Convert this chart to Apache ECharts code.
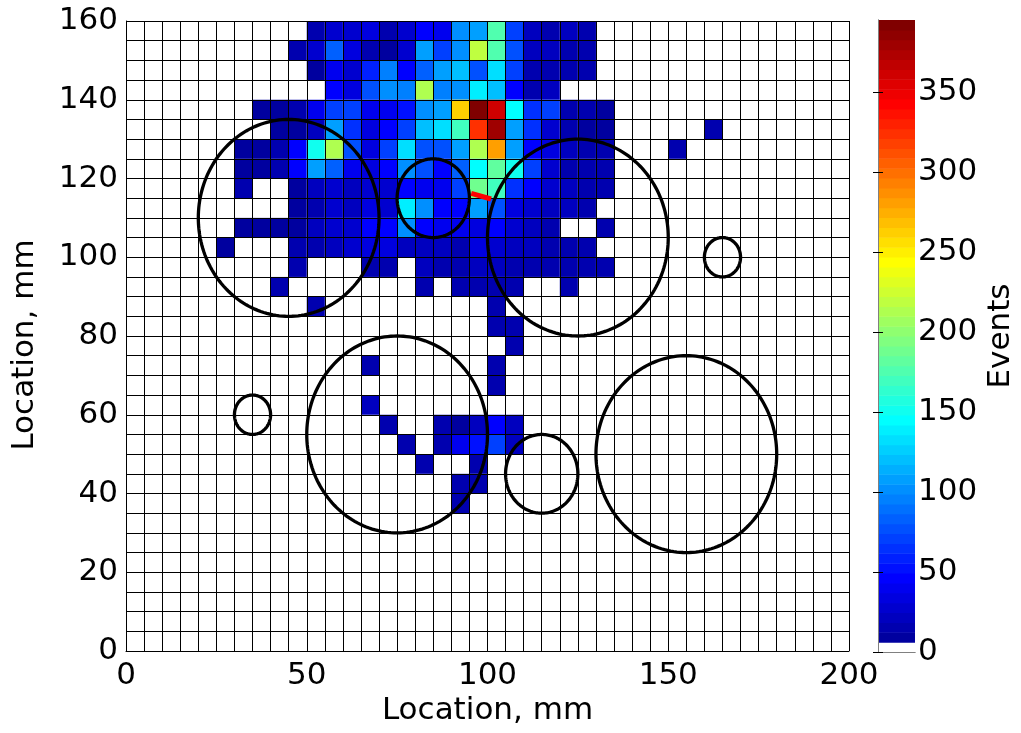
<!DOCTYPE html>
<html><head><meta charset="utf-8">
<script src="https://cdn.jsdelivr.net/npm/echarts@6/dist/echarts.min.js"></script>
<style>html,body{margin:0;padding:0;background:#fff}#c{width:1021px;height:733px}</style>
</head><body><div id="c"></div>
<script>
// ---- data ----
const xTicks = [0, 50, 100, 150, 200];
const yTicks = [0, 20, 40, 60, 80, 100, 120, 140, 160];
const cbTicks = [0, 50, 100, 150, 200, 250, 300, 350];
const cbMax = 395;
const cellSize = 5;
// bottom edge (mm) of each row of cells, top row first
const rowBottomY = [155,150,145,140,135,130,125,120,115,110,105,100,95,90,85,80,75,70,65,60,55,50,45,40,35];
// left edge (mm) of the first cell listed in each row
const rowStartX = [50,45,50,55,35,40,30,30,30,45,30,25,45,40,50,100,105,65,100,65,70,75,80,90,90];
// events per cell, consecutive cells from rowStartX
const rowEvents = [
  [16,30,30,33,16,30,49,43,99,111,173,74,23,16,23,16],
  [16,30,86,36,16,10,30,111,68,99,222,173,80,23,23,16,16],
  [12,43,30,60,93,49,86,108,123,80,133,74,16,16,16,16],
  [49,36,76,99,93,216,93,99,139,120,49,16,23],
  [12,10,16,43,74,74,43,43,52,99,111,265,395,364,148,62,68,16,16,10],
  [12,10,23,111,62,36,49,68,123,133,167,327,382,111,62,30,16,10,10,0,0,0,0,0,16],
  [12,10,16,49,154,210,80,36,68,133,80,80,111,210,278,111,49,36,23,16,16,0,0,0,16],
  [12,10,16,49,105,86,43,36,49,99,80,49,86,148,185,150,68,30,16,16,16],
  [16,0,0,12,23,30,23,30,30,49,43,43,74,190,170,62,49,30,23,16,16],
  [10,16,30,23,36,30,139,99,49,49,105,80,36,30,23,23,16],
  [12,12,12,12,23,30,30,49,49,99,49,43,40,36,49,30,23,16,0,0,16],
  [12,0,0,0,16,16,23,30,36,33,23,23,23,16,36,30,23,23,16,16,16],
  [16,0,0,0,16,16,0,23,16,16,23,23,16,16,16,16,16,16],
  [16,0,0,0,0,0,0,0,16,0,16,16,16,16,0,0,16],
  [16,0,0,0,0,0,0,0,0,0,16],
  [16,16],
  [16],
  [16,0,0,0,0,0,0,16],
  [16],
  [23],
  [16,0,0,16,10,23,49,23],
  [16,0,16,43,55,68,23],
  [16,0,0,16],
  [16,16],
  [16]
];
const circleX = [45, 85, 125, 165, 35, 75, 115, 155];
const circleY = [110, 115, 105, 100, 60, 55, 45, 50];
const circleR = [25, 10, 25, 5, 5, 25, 10, 25];
const redLineX = [95.5, 101];
const redLineY = [116.2, 114.8];

// ---- colormap (jet, 64 levels, lowest level white) ----
const nLevels = 64;
function clamp01(v){ return Math.max(0, Math.min(1, v)); }
function jet(x){
  const r = clamp01(1.5 - Math.abs(4*x - 3));
  const g = clamp01(1.5 - Math.abs(4*x - 2));
  const b = clamp01(1.5 - Math.abs(4*x - 1));
  return 'rgb(' + Math.round(r*255) + ',' + Math.round(g*255) + ',' + Math.round(b*255) + ')';
}
const levelColors = [];
for (let i = 0; i < nLevels; i++) levelColors.push(i === 0 ? '#ffffff' : jet((i + 1) / nLevels));
const step = cbMax / nLevels;
const pieces = levelColors.map((c, i) => i === nLevels - 1
  ? { gte: i * step, lte: cbMax + 10, color: c }
  : { gte: i * step, lt: (i + 1) * step, color: c });

const cells = [];
rowEvents.forEach((vals, r) => {
  vals.forEach((v, j) => {
    if (v > 0) cells.push([rowStartX[r] + j * cellSize, rowBottomY[r], v]);
  });
});
const circles = circleX.map((x, i) => [x, circleY[i], circleR[i]]);
const bands = levelColors.map((c, i) => [0, i * step, (i + 1) * step, i]);
const raySeg = [[redLineX[0], redLineY[0], redLineX[1], redLineY[1]]];

const FONT = 'DejaVu Sans';
const FS = 31;

const chart = echarts.init(document.getElementById('c'), null, { renderer: 'canvas' });
chart.setOption({
  animation: false,
  backgroundColor: '#ffffff',
  textStyle: { fontFamily: FONT },
  grid: [
    { left: 126, top: 21, width: 723, height: 630, show: false },
    { left: 878, top: 20, width: 37, height: 632, show: false }
  ],
  xAxis: [
    {
      gridIndex: 0, type: 'value', min: 0, max: 200, interval: cellSize, z: 3,
      name: 'Location, mm', nameLocation: 'middle', nameGap: 31,
      nameTextStyle: { fontSize: FS, color: '#000', fontFamily: FONT },
      axisLine: { show: true, onZero: false, lineStyle: { color: '#000', width: 1 } },
      axisTick: { show: false },
      axisLabel: { fontSize: FS, color: '#000', fontFamily: FONT, margin: 9,
        formatter: v => xTicks.includes(v) ? String(v) : '' },
      splitLine: { show: true, lineStyle: { color: '#000', width: 1 } }
    },
    {
      gridIndex: 1, type: 'value', min: 0, max: 1, position: 'bottom', z: 5,
      axisLine: { show: true, lineStyle: { color: '#808080', width: 1 } },
      axisTick: { show: false }, axisLabel: { show: false }, splitLine: { show: false }
    },
    {
      gridIndex: 1, type: 'value', min: 0, max: 1, position: 'top', z: 5,
      axisLine: { show: true, lineStyle: { color: '#808080', width: 1 } },
      axisTick: { show: false }, axisLabel: { show: false }, splitLine: { show: false }
    }
  ],
  yAxis: [
    {
      gridIndex: 0, type: 'value', min: 0, max: 160, interval: cellSize, z: 3,
      name: 'Location, mm', nameLocation: 'middle', nameGap: 86, nameRotate: 90,
      nameTextStyle: { fontSize: FS, color: '#000', fontFamily: FONT, padding: [0, 18, 0, 0] },
      axisLine: { show: true, onZero: false, lineStyle: { color: '#000', width: 1 } },
      axisTick: { show: false },
      axisLabel: { fontSize: FS, color: '#000', fontFamily: FONT, margin: 8,
        formatter: v => yTicks.includes(v) ? String(v) : '' },
      splitLine: { show: true, lineStyle: { color: '#000', width: 1 } }
    },
    {
      gridIndex: 1, type: 'value', min: 0, max: cbMax, interval: 50, position: 'right', z: 5,
      name: 'Events', nameLocation: 'middle', nameGap: 70, nameRotate: 90,
      nameTextStyle: { fontSize: FS, color: '#000', fontFamily: FONT },
      axisLine: { show: true, lineStyle: { color: '#808080', width: 1 } },
      axisTick: { show: true, inside: true, length: 5, customValues: cbTicks, lineStyle: { color: '#000' } },
      axisLabel: { fontSize: FS, color: '#000', fontFamily: FONT, margin: 3,
        formatter: v => cbTicks.includes(v) ? String(v) : '' },
      splitLine: { show: false }
    },
    {
      gridIndex: 1, type: 'value', min: 0, max: cbMax, interval: 50, position: 'left', z: 5,
      axisLine: { show: true, lineStyle: { color: '#808080', width: 1 } },
      axisTick: { show: true, inside: true, length: 5, customValues: cbTicks, lineStyle: { color: '#000' } },
      axisLabel: { show: false }, splitLine: { show: false }
    }
  ],
  visualMap: {
    type: 'piecewise', show: false, seriesIndex: 0, dimension: 2, pieces: pieces
  },
  series: [
    {
      name: 'Events', type: 'custom', xAxisIndex: 0, yAxisIndex: 0, z: 1,
      data: cells, encode: { x: 0, y: 1 },
      renderItem: function (params, api) {
        const x0 = api.value(0), y0 = api.value(1);
        const p1 = api.coord([x0, y0 + cellSize]);
        const p2 = api.coord([x0 + cellSize, y0]);
        return { type: 'rect',
          shape: { x: p1[0], y: p1[1], width: p2[0] - p1[0], height: p2[1] - p1[1] },
          style: { fill: api.visual('color') } };
      }
    },
    {
      name: 'circles', type: 'custom', xAxisIndex: 0, yAxisIndex: 0, z: 6,
      data: circles, encode: { x: 0, y: 1 }, silent: true,
      renderItem: function (params, api) {
        const cx = api.value(0), cy = api.value(1), r = api.value(2);
        const pts = [];
        for (let a = 0; a < 180; a++) {
          const t = a / 180 * Math.PI * 2;
          pts.push(api.coord([cx + r * Math.cos(t), cy + r * Math.sin(t)]));
        }
        return { type: 'polygon', shape: { points: pts },
          style: { fill: 'none', stroke: '#000', lineWidth: 3.3 } };
      }
    },
    {
      name: 'ray', type: 'custom', xAxisIndex: 0, yAxisIndex: 0, z: 8,
      data: raySeg, encode: { x: [0, 2], y: [1, 3] }, silent: true,
      renderItem: function (params, api) {
        const a = api.coord([api.value(0), api.value(1)]);
        const b = api.coord([api.value(2), api.value(3)]);
        return { type: 'line', z2: 10,
          shape: { x1: a[0], y1: a[1], x2: b[0], y2: b[1] },
          style: { stroke: '#ff0000', lineWidth: 5, lineCap: 'butt' } };
      }
    },
    {
      name: 'colorbar', type: 'custom', xAxisIndex: 1, yAxisIndex: 1, z: 1,
      data: bands, encode: { x: 0, y: [1, 2] }, silent: true,
      renderItem: function (params, api) {
        const lo = api.value(1), hi = api.value(2), idx = api.value(3);
        const p1 = api.coord([0, hi]);
        const p2 = api.coord([1, lo]);
        return { type: 'rect',
          shape: { x: p1[0], y: p1[1], width: p2[0] - p1[0], height: p2[1] - p1[1] + 0.5 },
          style: { fill: levelColors[idx] } };
      }
    }
  ]
});
</script></body></html>
